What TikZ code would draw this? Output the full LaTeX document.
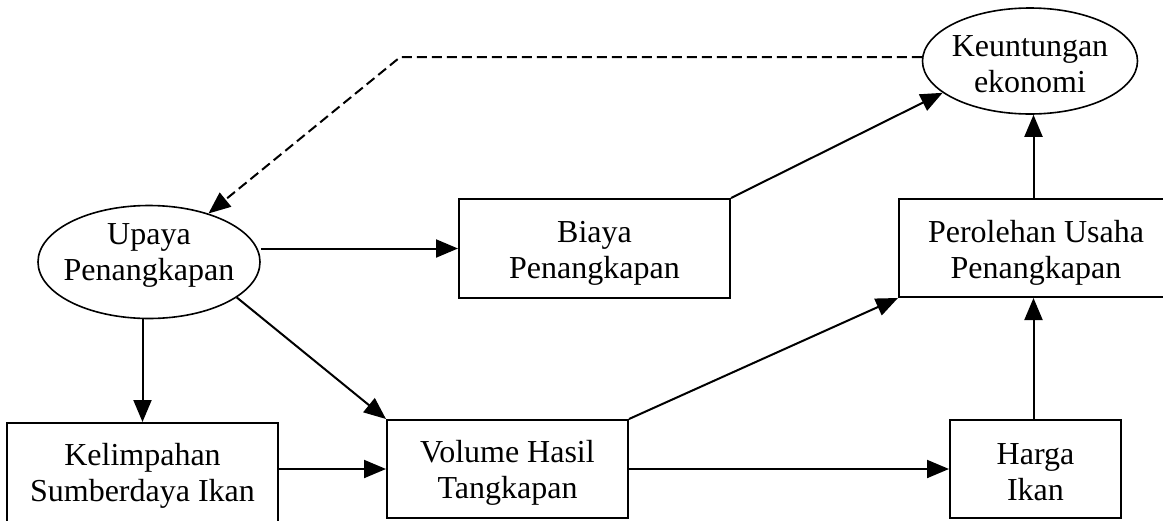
\documentclass[tikz,border=0pt]{standalone}
\usepackage{fontspec}
\setmainfont{Liberation Serif}
\usetikzlibrary{shapes.geometric,arrows.meta}
\begin{document}
\begin{tikzpicture}[x=1pt,y=-1pt,
  lbl/.style={align=center,inner sep=0pt,font=\fontsize{32}{36}\selectfont},
  box/.style={draw,line width=2pt,inner sep=0pt},
  oval/.style={draw,ellipse,line width=1.6pt,inner sep=0pt},
  arr/.style={line width=2pt,-{Triangle[length=22pt,width=18pt]}},
  dashedarr/.style={arr,dash pattern=on 10pt off 5pt},
]
\useasboundingbox (0,0) rectangle (1163,520);
\clip (0,0) rectangle (1163,520);

% shapes
\node[oval,minimum width=215pt,minimum height=106pt] (k) at (1030,61) {};
\node[oval,minimum width=222pt,minimum height=113pt] (u) at (149,262) {};
\node[box,minimum width=271pt,minimum height=99pt] (b) at (594.5,248.5) {};
\node[box,minimum width=269pt,minimum height=98pt] (p) at (1033.5,248) {};
\node[box,minimum width=271pt,minimum height=100pt] (kel) at (142.5,473) {};
\node[box,minimum width=241pt,minimum height=98pt] (vol) at (507.5,469) {};
\node[box,minimum width=171pt,minimum height=98pt] (h) at (1035.5,469) {};

% texts
\node[lbl] (kt) at (1030,64) {Keuntungan\\ekonomi};
\node[lbl] (ut) at (149,255.5) {Upaya\\Penangkapan};
\node[lbl] (bt) at (594.5,253.5) {Biaya\\Penangkapan};
\node[lbl] (pt) at (1036,252.5) {Perolehan Usaha\\Penangkapan};
\node[lbl] (kelt) at (142.5,475.5) {Kelimpahan\\Sumberdaya Ikan};
\node[lbl] (volt) at (507.5,472.5) {Volume Hasil\\Tangkapan};
\node[lbl] (ht) at (1035.5,472.5) {Harga\\Ikan};

% connectors
\coordinate (dc) at (400,59);
\draw[dashedarr] (k.178) -- (k.178 -| dc) -- (u);
\draw[arr] (u.east |- b.west) -- (b.west);
\draw[arr] (u.south -| kel.north) -- (kel.north);
\draw[arr] (u.-22) -- (vol.north west);
\draw[arr] (kel.east |- vol.west) -- (vol.west);
\draw[arr] (vol.east) -- (vol.east -| h.west);
\draw[arr] (vol.north east) -- (p.south west);
\draw[arr] (h.north -| p.south) -- (p.south);
\draw[arr] (p.north) -- (p.north |- k.south);
\draw[arr] (b.north east) -- (k.200);
\end{tikzpicture}
\end{document}
